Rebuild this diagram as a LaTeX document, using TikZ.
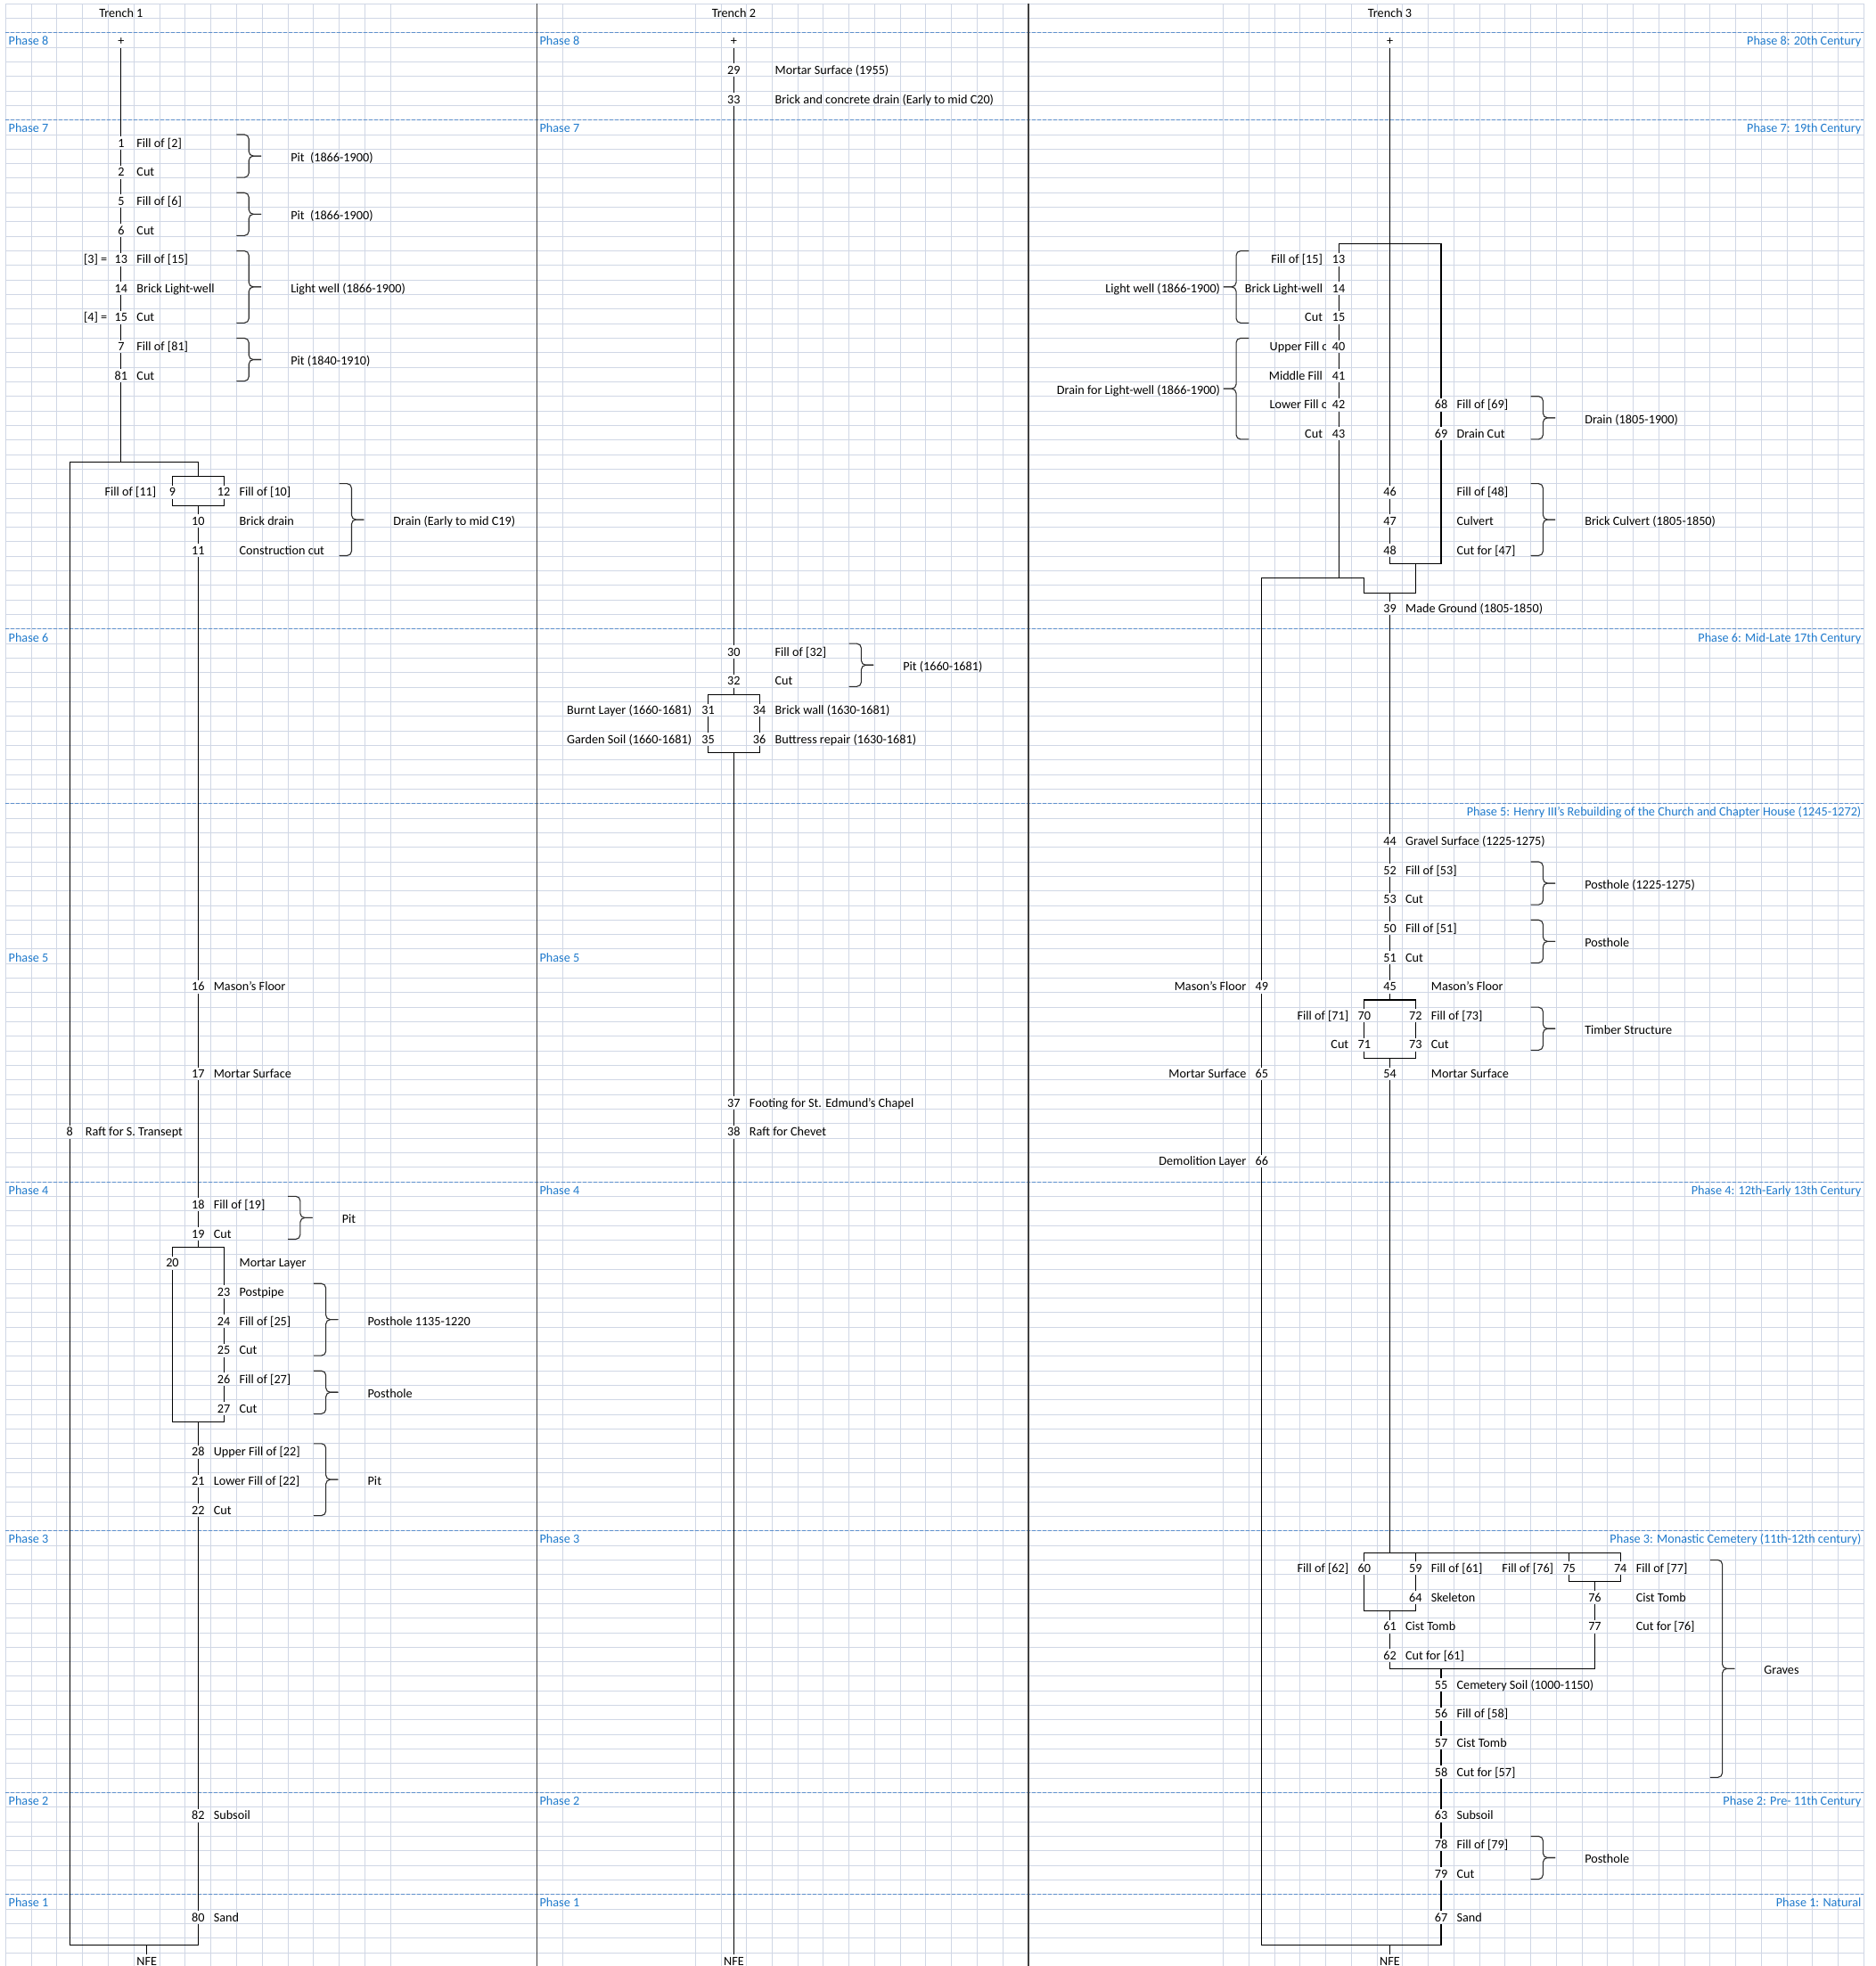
\documentclass[tikz,border=0pt]{standalone}
\usepackage{fontspec}
\setmainfont{Carlito}
\definecolor{gridblue}{RGB}{208,215,229}
\definecolor{phaseblue}{RGB}{31,122,204}
\definecolor{phasedash}{RGB}{95,145,205}
\definecolor{trenchgrey}{RGB}{64,64,64}
\definecolor{bracegrey}{RGB}{45,45,45}

% right brace: left x, top line, bottom line
\newcommand{\groupright}[3]{%
  \draw[bracket] (#1,#2) -- ({#1+13.8},#2) -- ({#1+13.8},{(#2+#3)/2}) -- ({#1+27.6},{(#2+#3)/2});
  \draw[bracket] (#1,#3) -- ({#1+13.8},#3) -- ({#1+13.8},{(#2+#3)/2}) -- ({#1+27.6},{(#2+#3)/2});}
% left brace: right x, top line, bottom line
\newcommand{\groupleft}[3]{%
  \draw[bracket] (#1,#2) -- ({#1-14.4},#2) -- ({#1-14.4},{(#2+#3)/2}) -- ({#1-28.7},{(#2+#3)/2});
  \draw[bracket] (#1,#3) -- ({#1-14.4},#3) -- ({#1-14.4},{(#2+#3)/2}) -- ({#1-28.7},{(#2+#3)/2});}

\begin{document}
\begin{tikzpicture}[x=1pt, y=-16.32pt, font=\fontsize{14.2}{17}\selectfont]
    % Define styles
    \tikzstyle{gridline} = [draw=gridblue, line width=0.9pt]
    \tikzstyle{phaseline} = [draw=phasedash, line width=0.9pt, dash pattern=on 4pt off 2pt]
    \tikzstyle{trenchline} = [draw=trenchgrey, line width=1.8pt]
    \tikzstyle{link} = [draw=black, line width=1.1pt, line cap=rect]
    \tikzstyle{bracket} = [draw=bracegrey, line width=1.1pt, rounded corners=5pt]
    \tikzstyle{head} = [inner sep=0pt, text height=9.2pt, text depth=0pt, yshift=-2.6pt]
    \tikzstyle{num} = [inner xsep=0pt, inner ysep=3.2pt, text height=9.2pt, text depth=0pt, yshift=-1.4pt]
    \tikzstyle{lbl} = [anchor=west, inner sep=0pt, text height=9.2pt, text depth=0pt, yshift=-1.4pt]
    \tikzstyle{lblr} = [anchor=east, inner sep=0pt, text height=9.2pt, text depth=0pt, yshift=-1.4pt]
    \tikzstyle{phase} = [lbl, text=phaseblue]
    \tikzstyle{phaser} = [lblr, text=phaseblue]

    \useasboundingbox (0,-0.2512) rectangle (2104,134.92);
    \fill[white] (0,-0.2512) rectangle (2104,134.92);

    % Sheet grid
    \foreach \k in {0,...,134}
        \draw[gridline] (6.25,\k) -- (2091.2,\k);
    \foreach \i in {0,...,15}
        \draw[gridline] ({6.25+28.8*\i},0) -- ({6.25+28.8*\i},134.92);
    \draw[gridline] (631.2,0) -- (631.2,134.92);
    \foreach \i in {0,...,12}
        \draw[gridline] ({780.3+28.72*\i},0) -- ({780.3+28.72*\i},134.92);
    \foreach \i in {0,...,25}
        \draw[gridline] ({1372.7+28.74*\i},0) -- ({1372.7+28.74*\i},134.92);
    \foreach \k in {2,8,43,55,81,105,123,130}
        \draw[phaseline] (6.25,\k) -- (2091.2,\k);
    \draw[trenchline] (602.4,0) -- (602.4,134.92);
    \draw[trenchline] (1153.6,0) -- (1153.6,134.92);

    % Headers and phases
    \node[head] (hd1) at (135.85,0.5) {Trench 1};
    \node[head] (hd2) at (823.38,0.5) {Trench 2};
    \node[head] (hd3) at (1559.51,0.5) {Trench 3};
    \node[phase] (p8a) at (9.5,2.5) {Phase 8};
    \node[phase] (p7a) at (9.5,8.5) {Phase 7};
    \node[phase] (p6a) at (9.5,43.5) {Phase 6};
    \node[phase] (p5a) at (9.5,65.5) {Phase 5};
    \node[phase] (p4a) at (9.5,81.5) {Phase 4};
    \node[phase] (p3a) at (9.5,105.5) {Phase 3};
    \node[phase] (p2a) at (9.5,123.5) {Phase 2};
    \node[phase] (p1a) at (9.5,130.5) {Phase 1};
    \node[phase] (p8b) at (605.4,2.5) {Phase 8};
    \node[phase] (p7b) at (605.4,8.5) {Phase 7};
    \node[phase] (p5b) at (605.4,65.5) {Phase 5};
    \node[phase] (p4b) at (605.4,81.5) {Phase 4};
    \node[phase] (p3b) at (605.4,105.5) {Phase 3};
    \node[phase] (p2b) at (605.4,123.5) {Phase 2};
    \node[phase] (p1b) at (605.4,130.5) {Phase 1};
    \node[phaser] (p8c) at (2088.5,2.5) {Phase 8: 20th Century};
    \node[phaser] (p7c) at (2088.5,8.5) {Phase 7: 19th Century};
    \node[phaser] (p6c) at (2088.5,43.5) {Phase 6: Mid-Late 17th Century};
    \node[phaser] (p5c) at (2088.5,55.5) {Phase 5: Henry III's Rebuilding of the Church and Chapter House (1245-1272)};
    \node[phaser] (p4c) at (2088.5,81.5) {Phase 4: 12th-Early 13th Century};
    \node[phaser] (p3c) at (2088.5,105.5) {Phase 3: Monastic Cemetery (11th-12th century)};
    \node[phaser] (p2c) at (2088.5,123.5) {Phase 2: Pre- 11th Century};
    \node[phaser] (p1c) at (2088.5,130.5) {Phase 1: Natural};

    % Trench 1 contexts
    \node[num] (a0) at (135.85,2.5) {+};
    \node[num] (a1) at (135.85,9.5) {1};
    \node[lbl] (a1t) at (153.25,9.5) {Fill of [2]};
    \node[num] (a2) at (135.85,11.5) {2};
    \node[lbl] (a2t) at (153.25,11.5) {Cut};
    \node[lbl] (g1) at (326.05,10.5) {Pit~~(1866-1900)};
    \node[num] (a5) at (135.85,13.5) {5};
    \node[lbl] (a5t) at (153.25,13.5) {Fill of [6]};
    \node[num] (a6) at (135.85,15.5) {6};
    \node[lbl] (a6t) at (153.25,15.5) {Cut};
    \node[lbl] (g2) at (326.05,14.5) {Pit~~(1866-1900)};
    \node[lblr] (a13e) at (120.5,17.5) {[3] =};
    \node[num] (a13) at (135.85,17.5) {13};
    \node[lbl] (a13t) at (153.25,17.5) {Fill of [15]};
    \node[num] (a14) at (135.85,19.5) {14};
    \node[lbl] (a14t) at (153.25,19.5) {Brick Light-well};
    \node[lbl] (g3) at (326.05,19.5) {Light well (1866-1900)};
    \node[lblr] (a15e) at (120.5,21.5) {[4] =};
    \node[num] (a15) at (135.85,21.5) {15};
    \node[lbl] (a15t) at (153.25,21.5) {Cut};
    \node[num] (a7) at (135.85,23.5) {7};
    \node[lbl] (a7t) at (153.25,23.5) {Fill of [81]};
    \node[num] (a81) at (135.85,25.5) {81};
    \node[lbl] (a81t) at (153.25,25.5) {Cut};
    \node[lbl] (g4) at (326.05,24.5) {Pit (1840-1910)};
    \node[lblr] (a9t) at (175.5,33.5) {Fill of [11]};
    \node[num] (a9) at (193.45,33.5) {9};
    \node[num] (a12) at (251.05,33.5) {12};
    \node[lbl] (a12t) at (268.45,33.5) {Fill of [10]};
    \node[num] (a10) at (222.25,35.5) {10};
    \node[lbl] (a10t) at (268.45,35.5) {Brick drain};
    \node[num] (a11) at (222.25,37.5) {11};
    \node[lbl] (a11t) at (268.45,37.5) {Construction cut};
    \node[lbl] (g5) at (441.25,35.5) {Drain (Early to mid C19)};
    \node[num] (a16) at (222.25,67.5) {16};
    \node[lbl] (a16t) at (239.65,67.5) {Mason's Floor};
    \node[num] (a17) at (222.25,73.5) {17};
    \node[lbl] (a17t) at (239.65,73.5) {Mortar Surface};
    \node[num] (a8) at (78.25,77.5) {8};
    \node[lbl] (a8t) at (95.65,77.5) {Raft for S. Transept};
    \node[num] (a18) at (222.25,82.5) {18};
    \node[lbl] (a18t) at (239.65,82.5) {Fill of [19]};
    \node[num] (a19) at (222.25,84.5) {19};
    \node[lbl] (a19t) at (239.65,84.5) {Cut};
    \node[lbl] (g6) at (383.65,83.5) {Pit};
    \node[num] (a20) at (193.45,86.5) {20};
    \node[lbl] (a20t) at (268.45,86.5) {Mortar Layer};
    \node[num] (a23) at (251.05,88.5) {23};
    \node[lbl] (a23t) at (268.45,88.5) {Postpipe};
    \node[num] (a24) at (251.05,90.5) {24};
    \node[lbl] (a24t) at (268.45,90.5) {Fill of [25]};
    \node[num] (a25) at (251.05,92.5) {25};
    \node[lbl] (a25t) at (268.45,92.5) {Cut};
    \node[lbl] (g7) at (412.45,90.5) {Posthole 1135-1220};
    \node[num] (a26) at (251.05,94.5) {26};
    \node[lbl] (a26t) at (268.45,94.5) {Fill of [27]};
    \node[num] (a27) at (251.05,96.5) {27};
    \node[lbl] (a27t) at (268.45,96.5) {Cut};
    \node[lbl] (g8) at (412.45,95.5) {Posthole};
    \node[num] (a28) at (222.25,99.5) {28};
    \node[lbl] (a28t) at (239.65,99.5) {Upper Fill of [22]};
    \node[num] (a21) at (222.25,101.5) {21};
    \node[lbl] (a21t) at (239.65,101.5) {Lower Fill of [22]};
    \node[num] (a22) at (222.25,103.5) {22};
    \node[lbl] (a22t) at (239.65,103.5) {Cut};
    \node[lbl] (g9) at (412.45,101.5) {Pit};
    \node[num] (a82) at (222.25,124.5) {82};
    \node[lbl] (a82t) at (239.65,124.5) {Subsoil};
    \node[num] (a80) at (222.25,131.5) {80};
    \node[lbl] (a80t) at (239.65,131.5) {Sand};
    \node[num] (nfe1) at (164.65,134.5) {NFE};

    % Trench 1 junctions
    \coordinate (a-top) at (135.85,31.5);
    \coordinate (a-tl) at (78.25,31.5);
    \coordinate (a-tr) at (222.25,31.5);
    \coordinate (a-s1) at (222.25,32.5);
    \coordinate (a-s1l) at (193.45,32.5);
    \coordinate (a-s1r) at (251.05,32.5);
    \coordinate (a-s2l) at (193.45,34.5);
    \coordinate (a-s2r) at (251.05,34.5);
    \coordinate (a-s2) at (222.25,34.5);
    \coordinate (a-m1) at (222.25,85.5);
    \coordinate (a-m1l) at (193.45,85.5);
    \coordinate (a-m1r) at (251.05,85.5);
    \coordinate (a-m2l) at (193.45,97.5);
    \coordinate (a-m2r) at (251.05,97.5);
    \coordinate (a-m2) at (222.25,97.5);
    \coordinate (a-bl) at (78.25,133.5);
    \coordinate (a-br) at (222.25,133.5);
    \coordinate (a-bm) at (164.65,133.5);

    % Trench 1 links
    \draw[link] (a0) -- (a1) -- (a2) -- (a5) -- (a6) -- (a13) -- (a14) -- (a15) -- (a7) -- (a81) -- (a-top);
    \draw[link] (a-tl) -- (a-tr) -- (a-s1);
    \draw[link] (a-tl) -- (a8) -- (a-bl);
    \draw[link] (a-s1l) -- (a-s1r);
    \draw[link] (a-s1l) -- (a9) -- (a-s2l);
    \draw[link] (a-s1r) -- (a12) -- (a-s2r);
    \draw[link] (a-s2l) -- (a-s2r);
    \draw[link] (a-s2) -- (a10) -- (a11) -- (a16) -- (a17) -- (a18) -- (a19) -- (a-m1);
    \draw[link] (a-m1l) -- (a-m1r);
    \draw[link] (a-m1l) -- (a20) -- (a-m2l);
    \draw[link] (a-m1r) -- (a23) -- (a24) -- (a25) -- (a26) -- (a27) -- (a-m2r);
    \draw[link] (a-m2l) -- (a-m2r);
    \draw[link] (a-m2) -- (a28) -- (a21) -- (a22) -- (a82) -- (a80) -- (a-br);
    \draw[link] (a-bl) -- (a-br);
    \draw[link] (a-bm) -- (nfe1);
    \groupright{265.45}{9}{11.95}
    \groupright{265.45}{13}{15.95}
    \groupright{265.45}{17}{21.95}
    \groupright{265.45}{23}{25.95}
    \groupright{380.65}{33}{37.95}
    \groupright{323.05}{82}{84.95}
    \groupright{351.85}{88}{92.95}
    \groupright{351.85}{94}{96.95}
    \groupright{351.85}{99}{103.95}

    % Trench 2 contexts
    \node[num] (b0) at (823.38,2.5) {+};
    \node[num] (b29) at (823.38,4.5) {29};
    \node[lbl] (b29t) at (869.46,4.5) {Mortar Surface (1955)};
    \node[num] (b33) at (823.38,6.5) {33};
    \node[lbl] (b33t) at (869.46,6.5) {Brick and concrete drain (Early to mid C20)};
    \node[num] (b30) at (823.38,44.5) {30};
    \node[lbl] (b30t) at (869.46,44.5) {Fill of [32]};
    \node[num] (b32) at (823.38,46.5) {32};
    \node[lbl] (b32t) at (869.46,46.5) {Cut};
    \node[lbl] (h1) at (1013.06,45.5) {Pit (1660-1681)};
    \node[lblr] (b31t) at (776.3,48.5) {Burnt Layer (1660-1681)};
    \node[num] (b31) at (794.66,48.5) {31};
    \node[num] (b34) at (852.1,48.5) {34};
    \node[lbl] (b34t) at (869.46,48.5) {Brick wall (1630-1681)};
    \node[lblr] (b35t) at (776.3,50.5) {Garden Soil (1660-1681)};
    \node[num] (b35) at (794.66,50.5) {35};
    \node[num] (b36) at (852.1,50.5) {36};
    \node[lbl] (b36t) at (869.46,50.5) {Buttress repair (1630-1681)};
    \node[num] (b37) at (823.38,75.5) {37};
    \node[lbl] (b37t) at (840.74,75.5) {Footing for St. Edmund's Chapel};
    \node[num] (b38) at (823.38,77.5) {38};
    \node[lbl] (b38t) at (840.74,77.5) {Raft for Chevet};
    \node[num] (nfe2) at (823.38,134.5) {NFE};

    % Trench 2 links
    \coordinate (b-t) at (823.38,47.5);
    \coordinate (b-tl) at (794.66,47.5);
    \coordinate (b-tr) at (852.1,47.5);
    \coordinate (b-bl) at (794.66,51.5);
    \coordinate (b-br) at (852.1,51.5);
    \coordinate (b-b) at (823.38,51.5);
    \draw[link] (b0) -- (b29) -- (b33) -- (b30) -- (b32) -- (b-t);
    \draw[link] (b-tl) -- (b-tr);
    \draw[link] (b-tl) -- (b31) -- (b35) -- (b-bl);
    \draw[link] (b-tr) -- (b34) -- (b36) -- (b-br);
    \draw[link] (b-bl) -- (b-br);
    \draw[link] (b-b) -- (b37) -- (b38) -- (nfe2);
    \groupright{952.62}{44}{46.95}

    % Trench 3 contexts
    \node[num] (c0) at (1559.51,2.5) {+};
    \node[lblr] (c13t) at (1484.2,17.5) {Fill of [15]};
    \node[num] (c13) at (1502.03,17.5) {13};
    \node[lblr] (c14t) at (1484.2,19.5) {Brick Light-well};
    \node[num] (c14) at (1502.03,19.5) {14};
    \node[lblr] (c15t) at (1484.2,21.5) {Cut};
    \node[num] (c15) at (1502.03,21.5) {15};
    \node[lblr] (k1) at (1369.2,19.5) {Light well (1866-1900)};
    \begin{scope}
        \clip (1401.44,22) rectangle (1487.66,30);
        \node[lbl] (c40t) at (1424.5,23.5) {Upper Fill o};
        \node[lbl] (c42t) at (1424.5,27.5) {Lower Fill o};
    \end{scope}
    \node[num] (c40) at (1502.03,23.5) {40};
    \node[lblr] (c41t) at (1484.2,25.5) {Middle Fill};
    \node[num] (c41) at (1502.03,25.5) {41};
    \node[num] (c42) at (1502.03,27.5) {42};
    \node[lblr] (c43t) at (1484.2,29.5) {Cut};
    \node[num] (c43) at (1502.03,29.5) {43};
    \node[lblr] (k2) at (1369.2,26.5) {Drain for Light-well (1866-1900)};
    \node[num] (c68) at (1616.99,27.5) {68};
    \node[lbl] (c68t) at (1634.4,27.5) {Fill of [69]};
    \node[num] (c69) at (1616.99,29.5) {69};
    \node[lbl] (c69t) at (1634.4,29.5) {Drain Cut};
    \node[lbl] (k3) at (1778.06,28.5) {Drain (1805-1900)};
    \node[num] (c46) at (1559.51,33.5) {46};
    \node[lbl] (c46t) at (1634.4,33.5) {Fill of [48]};
    \node[num] (c47) at (1559.51,35.5) {47};
    \node[lbl] (c47t) at (1634.4,35.5) {Culvert};
    \node[num] (c48) at (1559.51,37.5) {48};
    \node[lbl] (c48t) at (1634.4,37.5) {Cut for [47]};
    \node[lbl] (k4) at (1778.06,35.5) {Brick Culvert (1805-1850)};
    \node[num] (c39) at (1559.51,41.5) {39};
    \node[lbl] (c39t) at (1576.9,41.5) {Made Ground (1805-1850)};
    \node[num] (c44) at (1559.51,57.5) {44};
    \node[lbl] (c44t) at (1576.9,57.5) {Gravel Surface (1225-1275)};
    \node[num] (c52) at (1559.51,59.5) {52};
    \node[lbl] (c52t) at (1576.9,59.5) {Fill of [53]};
    \node[num] (c53) at (1559.51,61.5) {53};
    \node[lbl] (c53t) at (1576.9,61.5) {Cut};
    \node[lbl] (k5) at (1778.06,60.5) {Posthole (1225-1275)};
    \node[num] (c50) at (1559.51,63.5) {50};
    \node[lbl] (c50t) at (1576.9,63.5) {Fill of [51]};
    \node[num] (c51) at (1559.51,65.5) {51};
    \node[lbl] (c51t) at (1576.9,65.5) {Cut};
    \node[lbl] (k6) at (1778.06,64.5) {Posthole};
    \node[lblr] (c49t) at (1398.6,67.5) {Mason's Floor};
    \node[num] (c49) at (1415.81,67.5) {49};
    \node[num] (c45) at (1559.51,67.5) {45};
    \node[lbl] (c45t) at (1605.66,67.5) {Mason's Floor};
    \node[lblr] (c70t) at (1513.4,69.5) {Fill of [71]};
    \node[num] (c70) at (1530.77,69.5) {70};
    \node[num] (c72) at (1588.25,69.5) {72};
    \node[lbl] (c72t) at (1605.66,69.5) {Fill of [73]};
    \node[lblr] (c71t) at (1513.4,71.5) {Cut};
    \node[num] (c71) at (1530.77,71.5) {71};
    \node[num] (c73) at (1588.25,71.5) {73};
    \node[lbl] (c73t) at (1605.66,71.5) {Cut};
    \node[lbl] (k7) at (1778.06,70.5) {Timber Structure};
    \node[lblr] (c65t) at (1398.6,73.5) {Mortar Surface};
    \node[num] (c65) at (1415.81,73.5) {65};
    \node[num] (c54) at (1559.51,73.5) {54};
    \node[lbl] (c54t) at (1605.66,73.5) {Mortar Surface};
    \node[lblr] (c66t) at (1398.6,79.5) {Demolition Layer};
    \node[num] (c66) at (1415.81,79.5) {66};
    \node[lblr] (c60t) at (1513.4,107.5) {Fill of [62]};
    \node[num] (c60) at (1530.77,107.5) {60};
    \node[num] (c59) at (1588.25,107.5) {59};
    \node[lbl] (c59t) at (1605.66,107.5) {Fill of [61]};
    \node[lblr] (c75t) at (1743.3,107.5) {Fill of [76]};
    \node[num] (c75) at (1760.69,107.5) {75};
    \node[num] (c74) at (1818.17,107.5) {74};
    \node[lbl] (c74t) at (1835.54,107.5) {Fill of [77]};
    \node[num] (c64) at (1588.25,109.5) {64};
    \node[lbl] (c64t) at (1605.66,109.5) {Skeleton};
    \node[num] (c76) at (1789.43,109.5) {76};
    \node[lbl] (c76t) at (1835.54,109.5) {Cist Tomb};
    \node[num] (c61) at (1559.51,111.5) {61};
    \node[lbl] (c61t) at (1576.9,111.5) {Cist Tomb};
    \node[num] (c77) at (1789.43,111.5) {77};
    \node[lbl] (c77t) at (1835.54,111.5) {Cut for [76]};
    \node[num] (c62) at (1559.51,113.5) {62};
    \node[lbl] (c62t) at (1576.9,113.5) {Cut for [61]};
    \node[num] (c55) at (1616.99,115.5) {55};
    \node[lbl] (c55t) at (1634.4,115.5) {Cemetery Soil (1000-1150)};
    \node[num] (c56) at (1616.99,117.5) {56};
    \node[lbl] (c56t) at (1634.4,117.5) {Fill of [58]};
    \node[num] (c57) at (1616.99,119.5) {57};
    \node[lbl] (c57t) at (1634.4,119.5) {Cist Tomb};
    \node[num] (c58) at (1616.99,121.5) {58};
    \node[lbl] (c58t) at (1634.4,121.5) {Cut for [57]};
    \node[lbl] (k8) at (1979.24,114.5) {Graves};
    \node[num] (c63) at (1616.99,124.5) {63};
    \node[lbl] (c63t) at (1634.4,124.5) {Subsoil};
    \node[num] (c78) at (1616.99,126.5) {78};
    \node[lbl] (c78t) at (1634.4,126.5) {Fill of [79]};
    \node[num] (c79) at (1616.99,128.5) {79};
    \node[lbl] (c79t) at (1634.4,128.5) {Cut};
    \node[lbl] (k9) at (1778.06,127.5) {Posthole};
    \node[num] (c67) at (1616.99,131.5) {67};
    \node[lbl] (c67t) at (1634.4,131.5) {Sand};
    \node[num] (nfe3) at (1559.51,134.5) {NFE};

    % Trench 3 junctions
    \coordinate (c-bt) at (1502.03,16.5);
    \coordinate (c-btr) at (1616.99,16.5);
    \coordinate (c-cb) at (1559.51,38.5);
    \coordinate (c-cbm) at (1588.25,38.5);
    \coordinate (c-cbr) at (1616.99,38.5);
    \coordinate (c-lw) at (1502.03,39.5);
    \coordinate (c-l1) at (1415.81,39.5);
    \coordinate (c-l5) at (1530.77,39.5);
    \coordinate (c-k5) at (1530.77,40.5);
    \coordinate (c-k6) at (1559.51,40.5);
    \coordinate (c-k7) at (1588.25,40.5);
    \coordinate (c-t5) at (1530.77,68.5);
    \coordinate (c-t6) at (1559.51,68.5);
    \coordinate (c-t7) at (1588.25,68.5);
    \coordinate (c-u5) at (1530.77,72.5);
    \coordinate (c-u6) at (1559.51,72.5);
    \coordinate (c-u7) at (1588.25,72.5);
    \coordinate (c-g5) at (1530.77,106.5);
    \coordinate (c-g6) at (1559.51,106.5);
    \coordinate (c-g7) at (1588.25,106.5);
    \coordinate (c-g13) at (1760.69,106.5);
    \coordinate (c-g15) at (1818.17,106.5);
    \coordinate (c-h5) at (1530.77,110.5);
    \coordinate (c-h6) at (1559.51,110.5);
    \coordinate (c-h7) at (1588.25,110.5);
    \coordinate (c-i13) at (1760.69,108.5);
    \coordinate (c-i14) at (1789.43,108.5);
    \coordinate (c-i15) at (1818.17,108.5);
    \coordinate (c-j6) at (1559.51,114.5);
    \coordinate (c-j8) at (1616.99,114.5);
    \coordinate (c-j14) at (1789.43,114.5);
    \coordinate (c-bl) at (1415.81,133.5);
    \coordinate (c-bm) at (1559.51,133.5);
    \coordinate (c-br) at (1616.99,133.5);

    % Trench 3 links
    \draw[link] (c0) -- (c46) -- (c47) -- (c48) -- (c-cb);
    \draw[link] (c-bt) -- (c-btr);
    \draw[link] (c-bt) -- (c13) -- (c14) -- (c15) -- (c40) -- (c41) -- (c42) -- (c43) -- (c-lw);
    \draw[link] (c-btr) -- (c68) -- (c69) -- (c-cbr);
    \draw[link] (c-cb) -- (c-cbr);
    \draw[link] (c-cbm) -- (c-k7) -- (c-k5) -- (c-l5) -- (c-l1);
    \draw[link] (c-l1) -- (c49) -- (c65) -- (c66) -- (c-bl);
    \draw[link] (c-k6) -- (c39) -- (c44) -- (c52) -- (c53) -- (c50) -- (c51) -- (c45) -- (c-t6);
    \draw[link] (c-t5) -- (c-t7);
    \draw[link] (c-t5) -- (c70) -- (c71) -- (c-u5);
    \draw[link] (c-t7) -- (c72) -- (c73) -- (c-u7);
    \draw[link] (c-u5) -- (c-u7);
    \draw[link] (c-u6) -- (c54) -- (c-g6);
    \draw[link] (c-g5) -- (c-g15);
    \draw[link] (c-g5) -- (c60) -- (c-h5);
    \draw[link] (c-g7) -- (c59) -- (c64) -- (c-h7);
    \draw[link] (c-h5) -- (c-h7);
    \draw[link] (c-g13) -- (c75) -- (c-i13);
    \draw[link] (c-g15) -- (c74) -- (c-i15);
    \draw[link] (c-i13) -- (c-i15);
    \draw[link] (c-i14) -- (c76) -- (c77) -- (c-j14);
    \draw[link] (c-h6) -- (c61) -- (c62) -- (c-j6);
    \draw[link] (c-j6) -- (c-j14);
    \draw[link] (c-j8) -- (c55) -- (c56) -- (c57) -- (c58) -- (c63) -- (c78) -- (c79) -- (c67) -- (c-br);
    \draw[link] (c-bl) -- (c-br);
    \draw[link] (c-bm) -- (nfe3);
    \groupleft{1401.44}{17}{21.95}
    \groupleft{1401.44}{23}{29.95}
    \groupright{1717.58}{27}{29.95}
    \groupright{1717.58}{33}{37.95}
    \groupright{1717.58}{59}{61.95}
    \groupright{1717.58}{63}{65.95}
    \groupright{1717.58}{69}{71.95}
    \groupright{1918.76}{107}{121.95}
    \groupright{1717.58}{126}{128.95}
\end{tikzpicture}
\end{document}
